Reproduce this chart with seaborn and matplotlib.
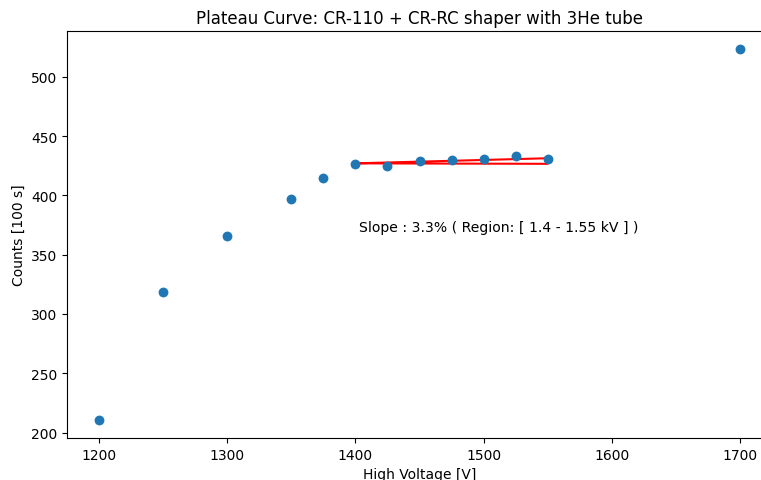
import matplotlib
matplotlib.use("Agg")
import matplotlib.pyplot as plt
import seaborn as sns
import pandas as pd

# Measured counts per 100 s at each high-voltage setting
voltage = [1200, 1250, 1300, 1350, 1375, 1400, 1425, 1450, 1475, 1500, 1525, 1550, 1700]
counts = [211.0, 318.3, 365.6, 396.9, 414.6, 426.5, 424.8, 429.0, 429.9, 430.7, 433.2, 430.7, 523.7]

# Linear fit over the plateau region, drawn as a closed outline
fit_v = [1400, 1550, 1550, 1400]
fit_c = [427.0, 431.3, 426.6, 427.0]

slope_text = "Slope : 3.3% ( Region: [ 1.4 - 1.55 kV ] )"
text_pos = (1402.5, 370)

df = pd.DataFrame({"voltage": voltage, "counts": counts})

fig = plt.figure(figsize=(7.61, 4.81), dpi=100)
ax = fig.add_axes([67 / 761, 42 / 481, (772 - 67) / 761, (439 - 32) / 481])

sns.scatterplot(data=df, x="voltage", y="counts", ax=ax, color="#1f77b4",
                s=50, linewidth=0, zorder=3)
ax.plot(fit_v, fit_c, color="red", linewidth=1.5, zorder=2)
ax.text(text_pos[0], text_pos[1], slope_text, fontsize=10.1)

ax.set_xlim(1175, 1725)
ax.set_ylim(195.4, 538.6)
ax.set_xticks([1200, 1300, 1400, 1500, 1600, 1700])
ax.set_yticks([200, 250, 300, 350, 400, 450, 500])
ax.set_xlabel("High Voltage [V]", fontsize=10)
ax.set_ylabel("Counts [100 s]", fontsize=10)
ax.set_title("Plateau Curve: CR-110 + CR-RC shaper with 3He tube", fontsize=12)
ax.tick_params(labelsize=10)

fig.savefig("out.png", dpi=100)
